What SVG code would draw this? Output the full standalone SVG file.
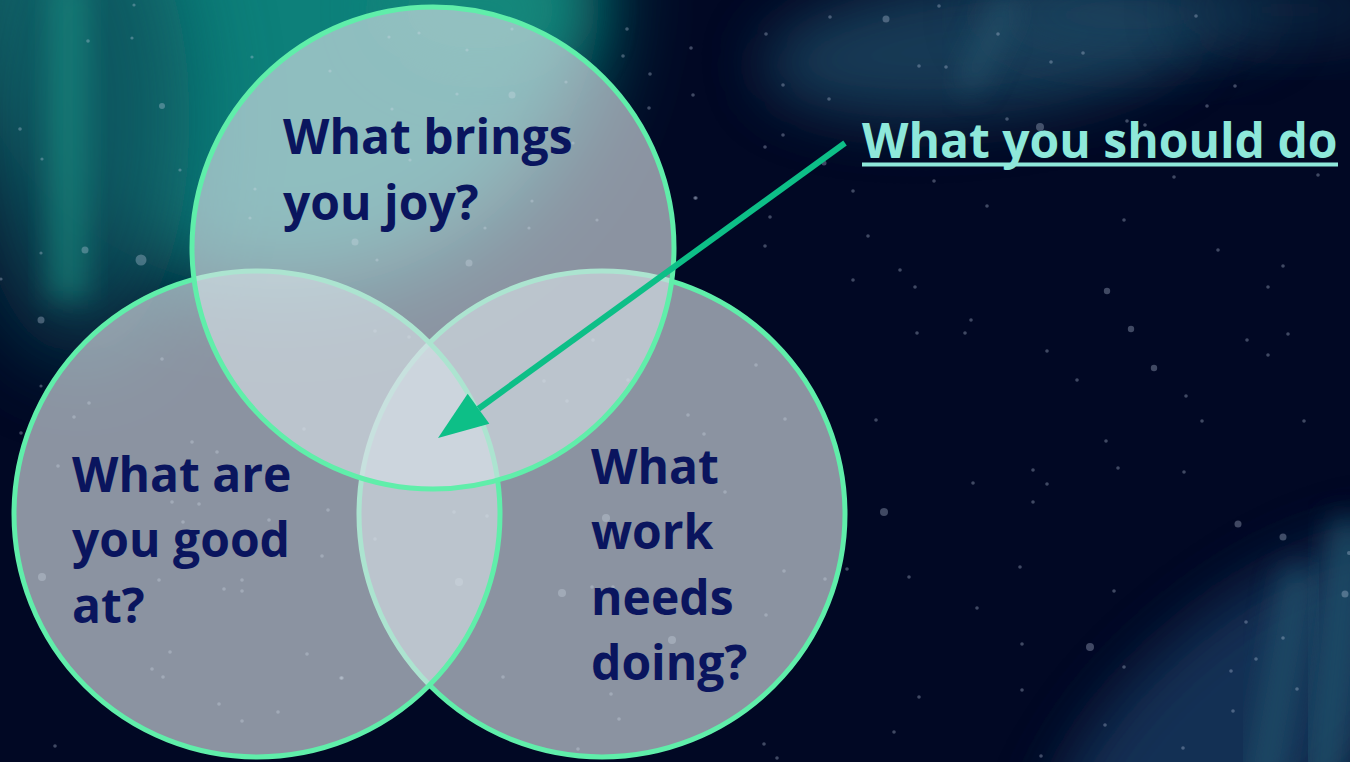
<svg xmlns="http://www.w3.org/2000/svg" width="1350" height="762" viewBox="0 0 1350 762">
  <style>
    .star { fill: #c8d2ea; fill-opacity: 0.32; }
    .venn { fill: #d6dfe5; fill-opacity: 0.65; stroke: #60eeaa; stroke-width: 5; }
    .q { font-family: "Open Sans", "Noto Sans", "Liberation Sans", sans-serif; font-weight: 700; font-size: 48px; fill: #0a155e; }
    .lbl { font-family: "Open Sans", "Noto Sans", "Liberation Sans", sans-serif; font-weight: 700; font-size: 48px; fill: #8ee8da; }
    .conn { stroke: #0dbf87; stroke-width: 6; fill: none; }
  </style>
  <defs>
    <filter id="blurXL" x="-60%" y="-60%" width="220%" height="220%"><feGaussianBlur stdDeviation="60"/></filter>
    <filter id="blurL" x="-50%" y="-50%" width="200%" height="200%"><feGaussianBlur stdDeviation="45"/></filter>
    <filter id="blurM" x="-50%" y="-50%" width="200%" height="200%"><feGaussianBlur stdDeviation="30"/></filter>
    <filter id="blurS" x="-50%" y="-50%" width="200%" height="200%"><feGaussianBlur stdDeviation="14"/></filter>
    <marker id="arrowhead" markerUnits="userSpaceOnUse" viewBox="-1 -20 52 40" markerWidth="52" markerHeight="40" refX="0" refY="0" orient="auto">
      <path d="M0,-18.5 L50,0 L0,18.5 Z" fill="#0dbf87"/>
    </marker>
  </defs>

  <g id="background">
    <rect x="0" y="0" width="1350" height="762" fill="#010824"/>
    <!-- teal aurora top-left -->
    <ellipse cx="280" cy="-10" rx="320" ry="300" fill="#10807a" filter="url(#blurL)"/>
    <ellipse cx="80" cy="120" rx="110" ry="240" fill="#0b4e5a" filter="url(#blurL)" opacity="0.8"/>
    <rect x="48" y="-20" width="40" height="320" fill="#1a9a88" opacity="0.5" filter="url(#blurS)"/>
    <ellipse cx="480" cy="10" rx="100" ry="60" fill="#148a7c" opacity="0.8" filter="url(#blurM)"/>
    <!-- blue aurora top-right -->
    <ellipse cx="980" cy="45" rx="220" ry="70" fill="#1c4762" opacity="0.8" filter="url(#blurM)" transform="rotate(-6 980 45)"/>
    <ellipse cx="1130" cy="15" rx="150" ry="45" fill="#1c4762" opacity="0.6" filter="url(#blurM)"/>
    <ellipse cx="1290" cy="10" rx="110" ry="35" fill="#183c58" opacity="0.5" filter="url(#blurM)"/>
    <line x1="1010" y1="0" x2="965" y2="90" stroke="#2a5b72" stroke-width="24" opacity="0.55" filter="url(#blurS)"/>
    <!-- blue aurora bottom-right -->
    <ellipse cx="1250" cy="720" rx="250" ry="110" fill="#15345a" opacity="0.9" filter="url(#blurM)" transform="rotate(-40 1250 720)"/>
    <line x1="1300" y1="570" x2="1262" y2="790" stroke="#21526c" stroke-width="34" opacity="0.75" filter="url(#blurS)"/>
    <line x1="1350" y1="520" x2="1322" y2="790" stroke="#21526c" stroke-width="40" opacity="0.75" filter="url(#blurS)"/>
  </g>

  <g id="stars">
    <circle class="star" cx="134" cy="5" r="1.6"/>
    <circle class="star" cx="88" cy="41" r="1.8"/>
    <circle class="star" cx="132" cy="38" r="1.6"/>
    <circle class="star" cx="162" cy="106" r="3"/>
    <circle class="star" cx="20" cy="129" r="1.8"/>
    <circle class="star" cx="42" cy="159" r="1.6"/>
    <circle class="star" cx="180" cy="170" r="1.6"/>
    <circle class="star" cx="41" cy="253" r="1.6"/>
    <circle class="star" cx="85" cy="250" r="3.5"/>
    <circle class="star" cx="141" cy="260" r="5.5"/>
    <circle class="star" cx="41" cy="320" r="3.5"/>
    <circle class="star" cx="1" cy="279" r="1.6"/>
    <circle class="star" cx="41" cy="386" r="1.6"/>
    <circle class="star" cx="252" cy="57" r="1.6"/>
    <circle class="star" cx="389" cy="37" r="1.6"/>
    <circle class="star" cx="419" cy="33" r="1.6"/>
    <circle class="star" cx="512" cy="29" r="1.6"/>
    <circle class="star" cx="467" cy="50" r="1.6"/>
    <circle class="star" cx="330" cy="71" r="1.6"/>
    <circle class="star" cx="566" cy="82" r="1.6"/>
    <circle class="star" cx="457" cy="94" r="1.6"/>
    <circle class="star" cx="512" cy="95" r="3.5"/>
    <circle class="star" cx="392" cy="109" r="1.6"/>
    <circle class="star" cx="573" cy="143" r="1.6"/>
    <circle class="star" cx="410" cy="160" r="1.6"/>
    <circle class="star" cx="255" cy="189" r="1.6"/>
    <circle class="star" cx="532" cy="201" r="1.6"/>
    <circle class="star" cx="250" cy="218" r="1.6"/>
    <circle class="star" cx="597" cy="220" r="1.6"/>
    <circle class="star" cx="485" cy="228" r="1.6"/>
    <circle class="star" cx="529" cy="228" r="1.6"/>
    <circle class="star" cx="355" cy="242" r="3.5"/>
    <circle class="star" cx="469" cy="263" r="3.5"/>
    <circle class="star" cx="377" cy="260" r="1.6"/>
    <circle class="star" cx="627" cy="29" r="1.8"/>
    <circle class="star" cx="623" cy="56" r="1.8"/>
    <circle class="star" cx="650" cy="74" r="1.8"/>
    <circle class="star" cx="691" cy="48" r="1.8"/>
    <circle class="star" cx="693" cy="95" r="1.8"/>
    <circle class="star" cx="649" cy="108" r="1.8"/>
    <circle class="star" cx="695" cy="198" r="1.8"/>
    <circle class="star" cx="939" cy="6" r="1.8"/>
    <circle class="star" cx="830" cy="17" r="1.8"/>
    <circle class="star" cx="886" cy="19" r="3.5"/>
    <circle class="star" cx="766" cy="34" r="1.8"/>
    <circle class="star" cx="998" cy="34" r="1.8"/>
    <circle class="star" cx="1196" cy="16" r="1.8"/>
    <circle class="star" cx="919" cy="66" r="1.8"/>
    <circle class="star" cx="946" cy="67" r="1.8"/>
    <circle class="star" cx="1051" cy="62" r="1.8"/>
    <circle class="star" cx="1083" cy="53" r="1.8"/>
    <circle class="star" cx="783" cy="85" r="1.8"/>
    <circle class="star" cx="829" cy="99" r="1.8"/>
    <circle class="star" cx="1235" cy="86" r="1.8"/>
    <circle class="star" cx="1207" cy="106" r="1.8"/>
    <circle class="star" cx="1007" cy="119" r="1.8"/>
    <circle class="star" cx="1040" cy="127" r="4"/>
    <circle class="star" cx="1127" cy="121" r="1.8"/>
    <circle class="star" cx="1145" cy="125" r="1.8"/>
    <circle class="star" cx="783" cy="135" r="1.8"/>
    <circle class="star" cx="765" cy="147" r="1.8"/>
    <circle class="star" cx="824" cy="163" r="2.5"/>
    <circle class="star" cx="934" cy="181" r="1.8"/>
    <circle class="star" cx="853" cy="191" r="1.8"/>
    <circle class="star" cx="1174" cy="177" r="1.8"/>
    <circle class="star" cx="1318" cy="175" r="1.8"/>
    <circle class="star" cx="987" cy="206" r="1.8"/>
    <circle class="star" cx="696" cy="198" r="1.8"/>
    <circle class="star" cx="1124" cy="220" r="1.8"/>
    <circle class="star" cx="770" cy="217" r="1.8"/>
    <circle class="star" cx="868" cy="236" r="1.8"/>
    <circle class="star" cx="765" cy="246" r="1.8"/>
    <circle class="star" cx="1218" cy="250" r="1.8"/>
    <circle class="star" cx="1283" cy="266" r="1.8"/>
    <circle class="star" cx="900" cy="270" r="1.8"/>
    <circle class="star" cx="853" cy="280" r="1.8"/>
    <circle class="star" cx="915" cy="287" r="1.8"/>
    <circle class="star" cx="1268" cy="287" r="1.8"/>
    <circle class="star" cx="1107" cy="291" r="3.2"/>
    <circle class="star" cx="971" cy="320" r="1.8"/>
    <circle class="star" cx="917" cy="333" r="1.8"/>
    <circle class="star" cx="965" cy="333" r="1.8"/>
    <circle class="star" cx="1131" cy="329" r="3.2"/>
    <circle class="star" cx="1247" cy="340" r="1.8"/>
    <circle class="star" cx="1288" cy="334" r="1.8"/>
    <circle class="star" cx="1047" cy="351" r="1.8"/>
    <circle class="star" cx="1268" cy="355" r="1.8"/>
    <circle class="star" cx="1154" cy="368" r="3.2"/>
    <circle class="star" cx="1077" cy="380" r="1.8"/>
    <circle class="star" cx="756" cy="365" r="1.8"/>
    <circle class="star" cx="1186" cy="396" r="1.8"/>
    <circle class="star" cx="876" cy="420" r="1.8"/>
    <circle class="star" cx="1202" cy="421" r="1.8"/>
    <circle class="star" cx="1304" cy="421" r="1.8"/>
    <circle class="star" cx="1106" cy="441" r="1.8"/>
    <circle class="star" cx="1033" cy="470" r="1.8"/>
    <circle class="star" cx="1118" cy="468" r="1.8"/>
    <circle class="star" cx="1184" cy="472" r="1.8"/>
    <circle class="star" cx="973" cy="483" r="1.8"/>
    <circle class="star" cx="1047" cy="484" r="1.8"/>
    <circle class="star" cx="1033" cy="502" r="1.8"/>
    <circle class="star" cx="884" cy="512" r="4"/>
    <circle class="star" cx="1238" cy="524" r="3.5"/>
    <circle class="star" cx="1283" cy="537" r="3.5"/>
    <circle class="star" cx="847" cy="569" r="1.8"/>
    <circle class="star" cx="1020" cy="567" r="1.8"/>
    <circle class="star" cx="909" cy="577" r="1.8"/>
    <circle class="star" cx="1349" cy="553" r="2"/>
    <circle class="star" cx="1114" cy="591" r="1.8"/>
    <circle class="star" cx="1345" cy="594" r="3.5"/>
    <circle class="star" cx="977" cy="608" r="1.8"/>
    <circle class="star" cx="1246" cy="622" r="1.8"/>
    <circle class="star" cx="1022" cy="644" r="1.8"/>
    <circle class="star" cx="1090" cy="647" r="4"/>
    <circle class="star" cx="1283" cy="638" r="1.8"/>
    <circle class="star" cx="1256" cy="659" r="1.8"/>
    <circle class="star" cx="1124" cy="667" r="1.8"/>
    <circle class="star" cx="1231" cy="671" r="1.8"/>
    <circle class="star" cx="1297" cy="689" r="1.8"/>
    <circle class="star" cx="1022" cy="690" r="1.8"/>
    <circle class="star" cx="919" cy="697" r="1.8"/>
    <circle class="star" cx="1233" cy="711" r="1.8"/>
    <circle class="star" cx="1105" cy="725" r="1.8"/>
    <circle class="star" cx="894" cy="732" r="1.8"/>
    <circle class="star" cx="1183" cy="748" r="1.8"/>
    <circle class="star" cx="1041" cy="756" r="1.8"/>
    <circle class="star" cx="89" cy="403" r="1.8"/>
    <circle class="star" cx="74" cy="417" r="1.8"/>
    <circle class="star" cx="162" cy="359" r="1.8"/>
    <circle class="star" cx="192" cy="442" r="1.8"/>
    <circle class="star" cx="217" cy="452" r="1.8"/>
    <circle class="star" cx="58" cy="466" r="1.8"/>
    <circle class="star" cx="172" cy="502" r="1.8"/>
    <circle class="star" cx="199" cy="504" r="1.8"/>
    <circle class="star" cx="328" cy="510" r="1.8"/>
    <circle class="star" cx="183" cy="522" r="1.8"/>
    <circle class="star" cx="269" cy="520" r="1.8"/>
    <circle class="star" cx="42" cy="577" r="4"/>
    <circle class="star" cx="159" cy="580" r="1.8"/>
    <circle class="star" cx="242" cy="580" r="1.8"/>
    <circle class="star" cx="224" cy="589" r="1.8"/>
    <circle class="star" cx="242" cy="591" r="1.8"/>
    <circle class="star" cx="322" cy="556" r="1.8"/>
    <circle class="star" cx="304" cy="429" r="1.8"/>
    <circle class="star" cx="375" cy="539" r="1.8"/>
    <circle class="star" cx="170" cy="652" r="1.8"/>
    <circle class="star" cx="307" cy="654" r="1.8"/>
    <circle class="star" cx="152" cy="669" r="1.8"/>
    <circle class="star" cx="163" cy="677" r="1.8"/>
    <circle class="star" cx="341" cy="678" r="1.8"/>
    <circle class="star" cx="219" cy="704" r="1.8"/>
    <circle class="star" cx="278" cy="712" r="1.8"/>
    <circle class="star" cx="242" cy="721" r="1.8"/>
    <circle class="star" cx="21" cy="433" r="1.8"/>
    <circle class="star" cx="55" cy="746" r="1.8"/>
    <circle class="star" cx="688" cy="415" r="1.8"/>
    <circle class="star" cx="704" cy="434" r="1.8"/>
    <circle class="star" cx="785" cy="419" r="1.8"/>
    <circle class="star" cx="725" cy="492" r="1.8"/>
    <circle class="star" cx="606" cy="518" r="4"/>
    <circle class="star" cx="784" cy="571" r="1.8"/>
    <circle class="star" cx="825" cy="579" r="1.8"/>
    <circle class="star" cx="562" cy="593" r="4"/>
    <circle class="star" cx="592" cy="587" r="1.8"/>
    <circle class="star" cx="613" cy="587" r="1.8"/>
    <circle class="star" cx="766" cy="615" r="1.8"/>
    <circle class="star" cx="672" cy="640" r="4"/>
    <circle class="star" cx="611" cy="694" r="1.8"/>
    <circle class="star" cx="619" cy="719" r="1.8"/>
    <circle class="star" cx="764" cy="744" r="1.8"/>
    <circle class="star" cx="777" cy="758" r="1.8"/>
    <circle class="star" cx="578" cy="749" r="1.8"/>
    <circle class="star" cx="375" cy="331" r="1.8"/>
    <circle class="star" cx="409" cy="337" r="1.8"/>
    <circle class="star" cx="593" cy="340" r="1.8"/>
    <circle class="star" cx="544" cy="381" r="1.8"/>
    <circle class="star" cx="567" cy="401" r="1.8"/>
    <circle class="star" cx="628" cy="380" r="1.8"/>
    <circle class="star" cx="454" cy="512" r="1.8"/>
    <circle class="star" cx="487" cy="516" r="1.8"/>
    <circle class="star" cx="459" cy="582" r="4"/>
    <circle class="star" cx="503" cy="677" r="1.8"/>
    <circle class="star" cx="342" cy="678" r="1.8"/>
  </g>

  <g id="node-work">
    <circle class="venn" cx="602" cy="514" r="243"/>
    <text class="q" x="591" y="484">What</text>
    <text class="q" x="591" y="549">work</text>
    <text class="q" x="591" y="615">needs</text>
    <text class="q" x="591" y="680">doing?</text>
  </g>

  <g id="node-good">
    <circle class="venn" cx="257" cy="514" r="243"/>
    <text class="q" x="72" y="492">What are</text>
    <text class="q" x="72" y="557">you good</text>
    <text class="q" x="72" y="623">at?</text>
  </g>

  <g id="node-joy">
    <circle class="venn" cx="433" cy="248" r="241"/>
    <text class="q" x="283" y="154">What brings</text>
    <text class="q" x="283" y="220">you joy?</text>
  </g>

  <g id="connectors">
    <line class="conn" x1="845" y1="143" x2="478.5" y2="408.7" marker-end="url(#arrowhead)"/>
  </g>

  <g id="label-should">
    <text class="lbl" x="862" y="158">What you should do</text>
    <line x1="862" y1="164.5" x2="1338" y2="164.5" stroke="#8ee8da" stroke-width="4"/>
  </g>
</svg>
